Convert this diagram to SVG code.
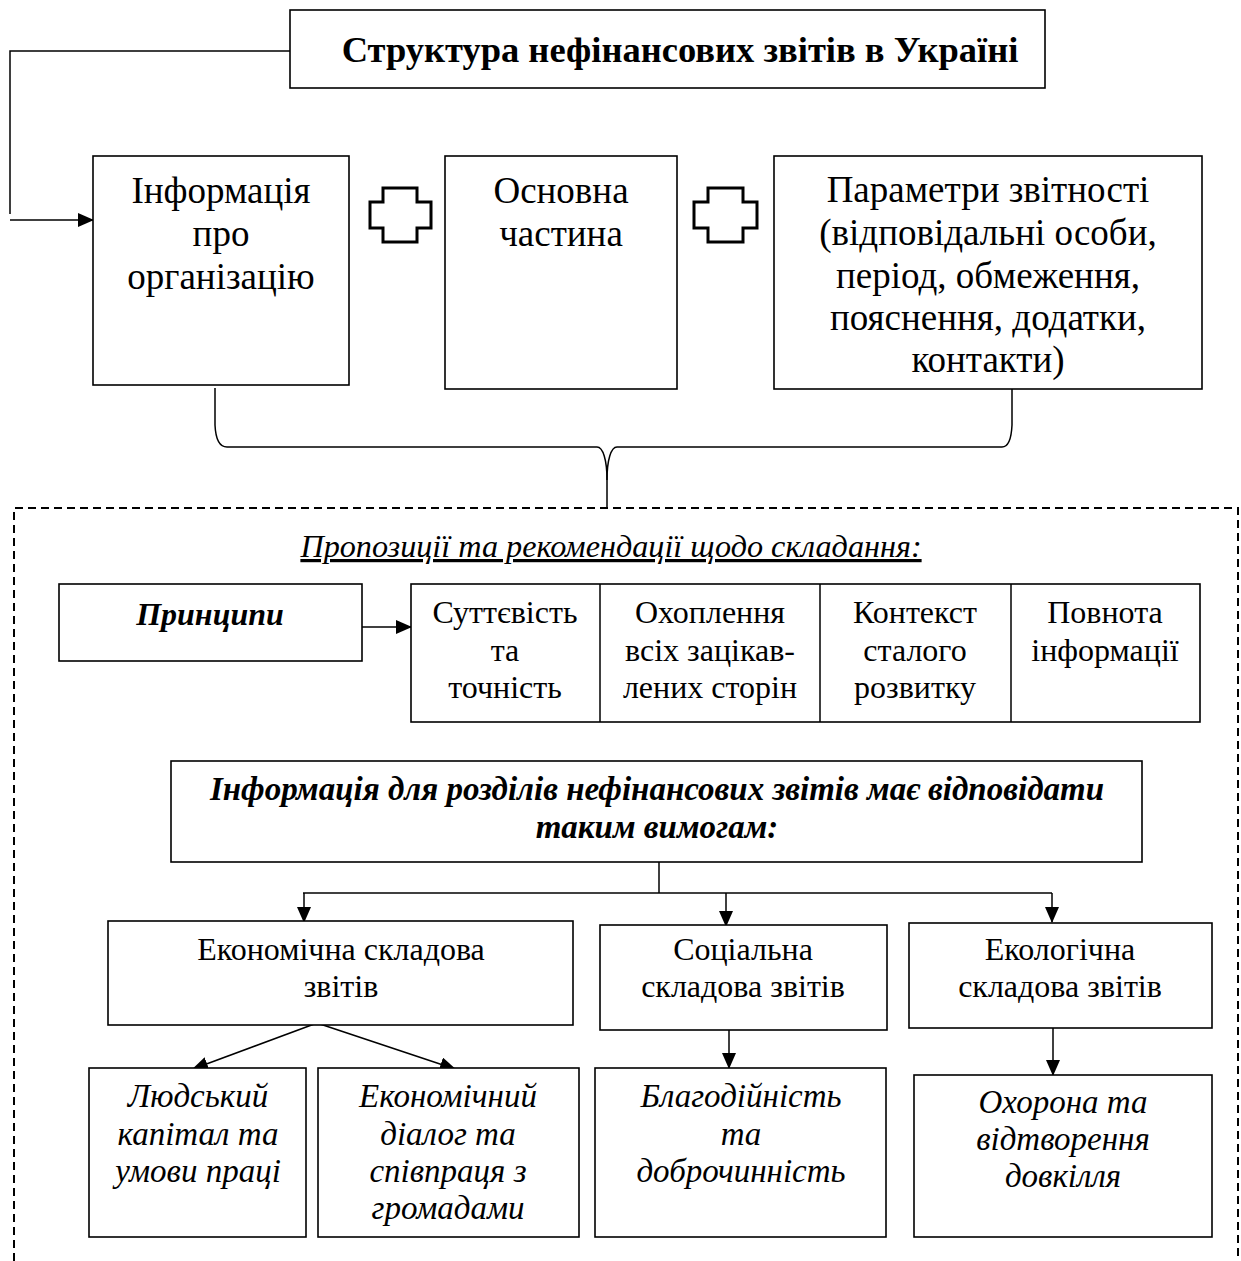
<svg xmlns="http://www.w3.org/2000/svg" width="1241" height="1261" viewBox="0 0 1241 1261">
<defs>
<marker id="ah" markerWidth="16" markerHeight="14" refX="15" refY="7" orient="auto" markerUnits="userSpaceOnUse">
<path d="M0,0 L16,7 L0,14 Z" fill="#000"/>
</marker>
<style>
.box{fill:#fff;stroke:#000;stroke-width:1.6}
.t{font-family:"Liberation Serif","Times New Roman",serif;fill:#000;text-anchor:middle}
.big{font-size:37px}
.mid{font-size:32px}
.ital{font-style:italic}
.bold{font-weight:bold}
.ln{fill:none;stroke:#000;stroke-width:1.5}
.arr{fill:none;stroke:#000;stroke-width:1.5;marker-end:url(#ah)}
.plus{fill:#fff;stroke:#000;stroke-width:3}
</style>
</defs>
<rect width="1241" height="1261" fill="#fff"/>

<g id="connectors">
<polyline class="ln" points="290,51 10,51 10,214"/>
<line class="arr" x1="10" y1="220" x2="93" y2="220"/>
<path class="ln" d="M215,388 L215,425 Q216,447 227,447 L597,447 C603,447 607,460 607,480 L607,507"/>
<path class="ln" d="M1012,388 L1012,425 Q1011,447 1002,447 L617,447 C611,447 607,460 607,480"/>
<line class="arr" x1="362" y1="627" x2="411" y2="627"/>
<line class="ln" x1="659" y1="862" x2="659" y2="893"/>
<line class="ln" x1="303" y1="893" x2="1052" y2="893"/>
<line class="arr" x1="304" y1="893" x2="304" y2="922"/>
<line class="arr" x1="726" y1="893" x2="726" y2="926"/>
<line class="arr" x1="1052" y1="893" x2="1052" y2="922"/>
<line class="arr" x1="317" y1="1023" x2="193" y2="1069"/>
<line class="arr" x1="317" y1="1023" x2="455" y2="1069"/>
<line class="arr" x1="729" y1="1030" x2="729" y2="1068"/>
<line class="arr" x1="1053" y1="1028" x2="1053" y2="1075"/>
</g>

<g id="title">
<rect class="box" x="290" y="10" width="755" height="78"/>
<text class="t bold" x="680" y="62" font-size="36.5">Структура нефінансових звітів в Україні</text>
</g>

<g id="info-org">
<rect class="box" x="93" y="156" width="256" height="229"/>
<text class="t big" x="221" y="203">Інформація</text>
<text class="t big" x="221" y="246">про</text>
<text class="t big" x="221" y="289">організацію</text>
</g>

<g id="plus1"><polygon class="plus" points="383,188 417,188 417,202 431,202 431,228 417,228 417,242 383,242 383,228 370,228 370,202 383,202"/></g>

<g id="main-part">
<rect class="box" x="445" y="156" width="232" height="233"/>
<text class="t big" x="561" y="203">Основна</text>
<text class="t big" x="561" y="246">частина</text>
</g>

<g id="plus2"><polygon class="plus" points="708,188 743,188 743,202 757,202 757,228 743,228 743,242 708,242 708,228 694,228 694,202 708,202"/></g>

<g id="params">
<rect class="box" x="774" y="156" width="428" height="233"/>
<text class="t big" x="988" y="202">Параметри звітності</text>
<text class="t big" x="988" y="245">(відповідальні особи,</text>
<text class="t big" x="988" y="288">період, обмеження,</text>
<text class="t big" x="988" y="330">пояснення, додатки,</text>
<text class="t big" x="988" y="372">контакти)</text>
</g>

<g id="recommendations">
<path d="M14,1261 L14,508 L1238,508 L1238,1261" fill="none" stroke="#000" stroke-width="2" stroke-dasharray="8 5"/>
<text class="t ital" x="611" y="557" text-decoration="underline" font-size="32.2">Пропозиції та рекомендації щодо складання:</text>
</g>

<g id="principles">
<rect class="box" x="59" y="584" width="303" height="77"/>
<text class="t bold ital" x="210" y="625" font-size="32">Принципи</text>
</g>

<g id="principles-table">
<rect class="box" x="411" y="584" width="789" height="138"/>
<line class="ln" x1="600" y1="584" x2="600" y2="722"/>
<line class="ln" x1="820" y1="584" x2="820" y2="722"/>
<line class="ln" x1="1011" y1="584" x2="1011" y2="722"/>
<text class="t mid" x="505" y="623">Суттєвість</text>
<text class="t mid" x="505" y="661">та</text>
<text class="t mid" x="505" y="698">точність</text>
<text class="t mid" x="710" y="623">Охоплення</text>
<text class="t mid" x="710" y="661">всіх зацікав-</text>
<text class="t mid" x="710" y="698">лених сторін</text>
<text class="t mid" x="915" y="623">Контекст</text>
<text class="t mid" x="915" y="661">сталого</text>
<text class="t mid" x="915" y="698">розвитку</text>
<text class="t mid" x="1105" y="623">Повнота</text>
<text class="t mid" x="1105" y="661">інформації</text>
</g>

<g id="requirements">
<rect class="box" x="171" y="761" width="971" height="101"/>
<text class="t bold ital" x="657" y="800" font-size="33">Інформація для розділів нефінансових звітів має відповідати</text>
<text class="t bold ital" x="657" y="838" font-size="33">таким вимогам:</text>
</g>

<g id="economic">
<rect class="box" x="108" y="921" width="465" height="104"/>
<text class="t mid" x="341" y="960">Економічна складова</text>
<text class="t mid" x="341" y="997">звітів</text>
</g>

<g id="social">
<rect class="box" x="600" y="925" width="287" height="105"/>
<text class="t mid" x="743" y="960">Соціальна</text>
<text class="t mid" x="743" y="997">складова звітів</text>
</g>

<g id="ecological">
<rect class="box" x="909" y="923" width="303" height="105"/>
<text class="t mid" x="1060" y="960">Екологічна</text>
<text class="t mid" x="1060" y="997">складова звітів</text>
</g>

<g id="human-capital">
<rect class="box" x="89" y="1068" width="217" height="169"/>
<text class="t ital" font-size="33" x="198" y="1107">Людський</text>
<text class="t ital" font-size="33" x="198" y="1145">капітал та</text>
<text class="t ital" font-size="33" x="198" y="1182">умови праці</text>
</g>

<g id="economic-dialogue">
<rect class="box" x="318" y="1068" width="261" height="169"/>
<text class="t ital" font-size="33" x="448" y="1107">Економічний</text>
<text class="t ital" font-size="33" x="448" y="1145">діалог та</text>
<text class="t ital" font-size="33" x="448" y="1182">співпраця з</text>
<text class="t ital" font-size="33" x="448" y="1219">громадами</text>
</g>

<g id="charity">
<rect class="box" x="595" y="1068" width="291" height="169"/>
<text class="t ital" font-size="33" x="741" y="1107">Благодійність</text>
<text class="t ital" font-size="33" x="741" y="1145">та</text>
<text class="t ital" font-size="33" x="741" y="1182">доброчинність</text>
</g>

<g id="environment">
<rect class="box" x="914" y="1075" width="298" height="162"/>
<text class="t ital" font-size="33" x="1063" y="1113">Охорона та</text>
<text class="t ital" font-size="33" x="1063" y="1150">відтворення</text>
<text class="t ital" font-size="33" x="1063" y="1187">довкілля</text>
</g>
</svg>
